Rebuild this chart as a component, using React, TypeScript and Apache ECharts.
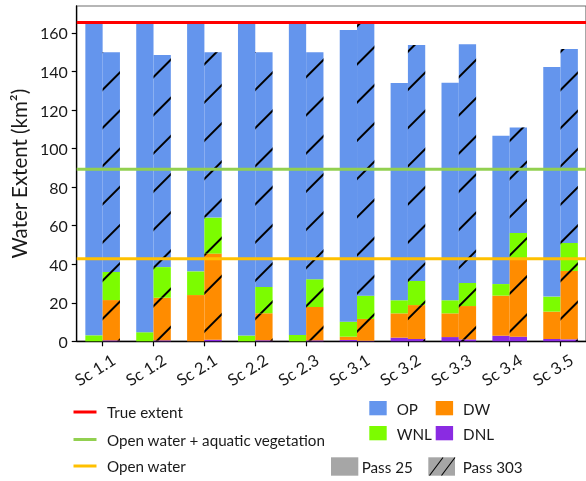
import React, { useEffect, useRef } from 'react';
import * as echarts from 'echarts';

const categories = ['Sc 1.1', 'Sc 1.2', 'Sc 2.1', 'Sc 2.2', 'Sc 2.3', 'Sc 3.1', 'Sc 3.2', 'Sc 3.3', 'Sc 3.4', 'Sc 3.5'];

// Pass 25 (solid) – stacked from bottom: DNL, DW, WNL, OP
const p25DNL = [0, 0, 0, 0, 0, 0.7, 1.9, 2.2, 2.9, 1.2];
const p25DW = [0, 0, 24, 0, 0, 1.7, 12.6, 12.3, 20.8, 14.2];
const p25WNL = [3.1, 4.7, 12.3, 3, 3.3, 7.8, 6.8, 6.8, 6, 7.8];
const p25OP = [162.4, 160.8, 129.2, 162.5, 162.2, 151.3, 112.7, 112.9, 77, 119.1];

// Pass 303 (hatched)
const p303DNL = [0.5, 0.5, 0.8, 0.5, 0.5, 0.3, 1.2, 1, 2.4, 1];
const p303DW = [20.9, 22.1, 44.7, 14, 17.3, 11.3, 17.6, 17.3, 40.1, 35.5];
const p303WNL = [14.6, 15.9, 18.7, 13.7, 14.4, 12.1, 12.5, 12, 13.7, 14.5];
const p303OP = [114, 110.1, 85.8, 121.8, 117.8, 141, 122.5, 123.8, 54.8, 100.7];

// Reference lines
const refNames = ['True extent', 'Open water + aquatic vegetation', 'Open water'];
const refValues = [165.5, 89.3, 42.8];
const refColors = ['#FF0000', '#92D050', '#FFC000'];

const yTicks = [0, 20, 40, 60, 80, 100, 120, 140, 160];
const yMax = 174;

const compNames = ['DNL', 'DW', 'WNL', 'OP'];
const compColors: Record<string, string> = { OP: '#6495ED', DW: '#FF8C00', WNL: '#7CFC00', DNL: '#8A2BE2' };

const FONT = 'Lato';
const TXT = '#1a1a1a';

export default function App() {
  const ref = useRef<HTMLDivElement>(null);
  useEffect(() => {
    if (!ref.current) return;
    const chart = echarts.init(ref.current, undefined, { renderer: 'svg' });

    const hatch = {
      symbol: 'rect',
      symbolSize: 1,
      color: '#000',
      dashArrayX: [1, 0],
      dashArrayY: [1.1, 24.9],
      rotation: -Math.PI / 4,
    };

    const p25 = [p25DNL, p25DW, p25WNL, p25OP];
    const p303 = [p303DNL, p303DW, p303WNL, p303OP];

    const barSeries: any[] = [];
    compNames.forEach((c, i) => {
      barSeries.push({
        type: 'bar',
        name: c + ' Pass 25',
        stack: 'p25',
        xAxisIndex: 1,
        yAxisIndex: 1,
        barWidth: 17.3,
        barGap: '0%',
        itemStyle: { color: compColors[c] },
        data: p25[i],
        z: 2,
      });
    });
    compNames.forEach((c, i) => {
      barSeries.push({
        type: 'bar',
        name: c + ' Pass 303',
        stack: 'p303',
        xAxisIndex: 1,
        yAxisIndex: 1,
        barWidth: 17.3,
        barGap: '0%',
        itemStyle: { color: compColors[c], decal: hatch },
        data: p303[i],
        z: 2,
      });
    });

    const lineSeries = refValues.map((v, i) => ({
      type: 'line',
      name: refNames[i],
      xAxisIndex: 0,
      yAxisIndex: 0,
      data: [[0, v], [1, v]],
      symbol: 'none',
      lineStyle: { color: refColors[i], width: 3 },
      z: 5,
      silent: true,
    }));

    const LF = `15.2px ${FONT}`;
    const graphics: any[] = [];
    // left legend (lines)
    const lineRows = [412, 439.5, 466];
    refNames.forEach((n, i) => {
      graphics.push({
        type: 'line',
        shape: { x1: 73.5, y1: lineRows[i], x2: 96.5, y2: lineRows[i] },
        style: { stroke: refColors[i], lineWidth: 3 },
      });
      graphics.push({
        type: 'text',
        x: 107,
        y: lineRows[i],
        style: { text: n, font: LF, fill: TXT, verticalAlign: 'middle', textAlign: 'left' },
      });
    });
    // right legend (components)
    const compLegend = [
      { n: 'OP', x: 369.3, y: 401 },
      { n: 'DW', x: 435.7, y: 401 },
      { n: 'WNL', x: 369.3, y: 426 },
      { n: 'DNL', x: 435.7, y: 426 },
    ];
    compLegend.forEach((it) => {
      graphics.push({
        type: 'rect',
        shape: { x: it.x, y: it.y, width: 17.4, height: 14.3 },
        style: { fill: compColors[it.n] },
      });
      graphics.push({
        type: 'text',
        x: it.x + 27.4,
        y: it.y + 7.5,
        style: { text: it.n, font: LF, fill: TXT, verticalAlign: 'middle', textAlign: 'left' },
      });
    });
    // pass legend
    graphics.push({ type: 'rect', shape: { x: 331, y: 457.3, width: 27.3, height: 18.4 }, style: { fill: '#A6A6A6' } });
    graphics.push({ type: 'text', x: 361.7, y: 466.5, style: { text: 'Pass 25', font: LF, fill: TXT, verticalAlign: 'middle' } });
    graphics.push({ type: 'rect', shape: { x: 428.3, y: 457.3, width: 26.7, height: 18.4 }, style: { fill: '#A6A6A6' } });
    graphics.push({ type: 'line', shape: { x1: 429.5, y1: 475.5, x2: 443, y2: 457.5 }, style: { stroke: '#000', lineWidth: 1.1 } });
    graphics.push({ type: 'line', shape: { x1: 441.5, y1: 475.5, x2: 455, y2: 457.5 }, style: { stroke: '#000', lineWidth: 1.1 } });
    graphics.push({ type: 'text', x: 462.7, y: 466.5, style: { text: 'Pass 303', font: LF, fill: TXT, verticalAlign: 'middle' } });

    const gridTop = 6;
    const gridH = 335.3;

    chart.setOption({
      animation: false,
      textStyle: { fontFamily: FONT },
      grid: [
        { left: 73, top: gridTop, width: 520, height: gridH, show: true, borderColor: '#6e6e6e', borderWidth: 1.2, backgroundColor: 'transparent' },
        { left: 77.2, top: gridTop, width: 516, height: gridH },
      ],
      xAxis: [
        {
          gridIndex: 0,
          type: 'value',
          min: 0,
          max: 1,
          axisLine: { show: true, lineStyle: { color: '#000', width: 1.3 } },
          axisTick: { show: false },
          axisLabel: { show: false },
          splitLine: { show: false },
        },
        {
          gridIndex: 1,
          type: 'category',
          data: categories,
          axisLine: { show: false },
          axisTick: { show: true, alignWithLabel: true, length: 5, lineStyle: { color: '#000', width: 1.2 } },
          axisLabel: {
            rotate: 32,
            interval: 0,
            fontSize: 16.5,
            color: TXT,
            fontFamily: FONT,
            margin: 24,
            padding: [0, -13, 0, 0],
          },
          splitLine: { show: false },
        },
      ],
      yAxis: [
        {
          gridIndex: 0,
          type: 'value',
          min: 0,
          max: yMax,
          interval: 20,
          name: 'Water Extent (km²)',
          nameLocation: 'middle',
          nameGap: 45,
          nameTextStyle: { fontSize: 20.5, color: TXT, fontFamily: FONT },
          axisLine: { show: true, lineStyle: { color: '#000', width: 1.3 } },
          axisTick: { show: true, length: 5, customValues: yTicks, lineStyle: { color: '#000', width: 1.2 } },
          axisLabel: { fontSize: 16, color: TXT, fontFamily: FONT, margin: 9, customValues: yTicks },
          splitLine: { show: false },
        },
        {
          gridIndex: 1,
          type: 'value',
          min: 0,
          max: yMax,
          show: false,
          splitLine: { show: false },
        },
      ],
      series: [...barSeries, ...lineSeries],
      graphic: graphics,
    });

    return () => chart.dispose();
  }, []);

  return <div ref={ref} style={{ position: 'fixed', left: 0, top: 0, width: 586, height: 481 }} />;
}
